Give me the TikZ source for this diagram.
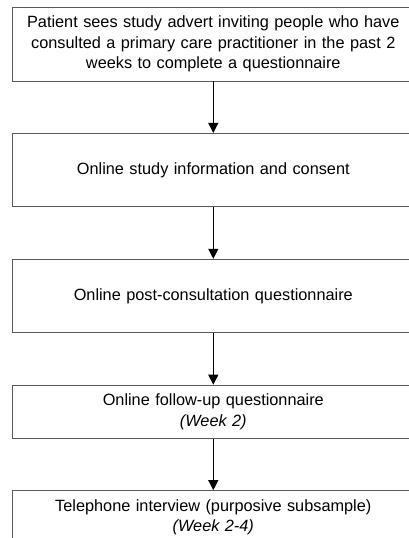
\documentclass[tikz,border=0pt]{standalone}
\usepackage{fontspec}
\setmainfont{Liberation Sans}
\usetikzlibrary{positioning, arrows.meta}
\tikzset{
    >={Triangle[length=10pt, width=10pt]}, % filled arrow heads
    node distance=51.5pt, % gap between two boxes
    stage/.style={draw=black!65, line width=0.9pt, minimum width=402pt, minimum height=73.5pt,
        text width=395pt, align=center, font=\fontsize{16.3}{20.5}\selectfont}, % sets the properties for each box
    short stage/.style={stage, minimum height=53pt}, % boxes that carry a week line
    flow/.style={->, line width=1.2pt}, % the connecting arrows
}

\begin{document}
\begin{tikzpicture}[x=1pt, y=1pt]
    \useasboundingbox (0,0) rectangle (409,-538);
    \node[stage, anchor=north] (advert) at (213.3,-7)
        {Patient sees study advert inviting people who have\\ consulted a primary care practitioner in the past 2\\ weeks to complete a questionnaire};
    \node[stage, below=of advert] (consent) {Online study information and consent};
    \node[stage, below=of consent] (postq) {Online post-consultation questionnaire};
    \node[short stage, below=of postq] (followq) {Online follow-up questionnaire\\ \textit{(Week 2)}};
    \node[short stage, below=of followq] (interview) {Telephone interview (purposive subsample)\\ \textit{(Week 2-4)}};
    \draw[flow] (advert) -- (consent);
    \draw[flow] (consent) -- (postq);
    \draw[flow] (postq) -- (followq);
    \draw[flow] (followq) -- (interview);
\end{tikzpicture}
\end{document}
